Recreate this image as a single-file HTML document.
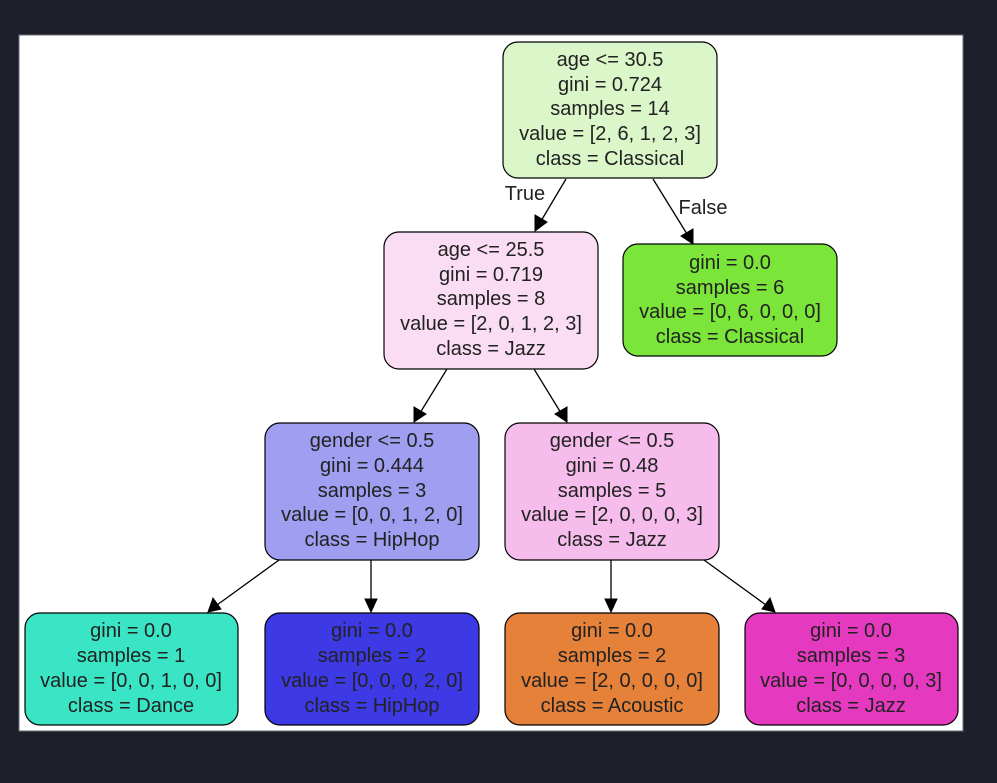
<!DOCTYPE html>
<html><head><meta charset="utf-8"><style>
html,body{margin:0;padding:0;background:#1d1f2b;}
svg{display:block}
text{font-family:"Liberation Sans",Arial,sans-serif;font-size:20px;fill:#222;text-anchor:middle}
.e{stroke:#000;stroke-width:1.3;fill:none}
.a{fill:#000;stroke:#000}
.n{stroke:#000;stroke-width:1.2}
</style></head><body>
<svg width="997" height="783" viewBox="0 0 997 783">
<rect x="0" y="0" width="997" height="783" fill="#1d1f2b"/>
<rect x="19" y="35" width="944" height="696" fill="#fff" stroke="#6b6d78" stroke-width="1"/>

<line class="e" x1="566" y1="179" x2="541" y2="221"/>
<polygon class="a" points="535,231 535,215 547,222"/>
<text x="525" y="200">True</text>
<line class="e" x1="653" y1="179" x2="687" y2="234"/>
<polygon class="a" points="693,244 681,236 693,229"/>
<text x="703" y="214">False</text>

<line class="e" x1="447" y1="369" x2="420" y2="413"/>
<polygon class="a" points="414,422 414,407 426,414"/>
<line class="e" x1="534" y1="369" x2="561" y2="413"/>
<polygon class="a" points="567,422 555,414 567,407"/>

<line class="e" x1="279" y1="560" x2="217" y2="605"/>
<polygon class="a" points="208,612 213,598 221,609"/>
<line class="e" x1="371" y1="560" x2="371" y2="601"/>
<polygon class="a" points="371,612 365,599 377,599"/>
<line class="e" x1="611" y1="560" x2="611" y2="601"/>
<polygon class="a" points="611,612 605,599 617,599"/>
<line class="e" x1="704" y1="560" x2="766" y2="605"/>
<polygon class="a" points="775,612 762,609 770,598"/>

<rect class="n" x="503" y="42" width="214" height="136" rx="15" fill="#dbf7c9"/>
<text x="610" y="66">age &lt;= 30.5</text>
<text x="610" y="91">gini = 0.724</text>
<text x="610" y="115">samples = 14</text>
<text x="610" y="140">value = [2, 6, 1, 2, 3]</text>
<text x="610" y="165">class = Classical</text>

<rect class="n" x="384" y="232" width="214" height="137" rx="15" fill="#fbddf3"/>
<text x="491" y="256">age &lt;= 25.5</text>
<text x="491" y="281">gini = 0.719</text>
<text x="491" y="305">samples = 8</text>
<text x="491" y="330">value = [2, 0, 1, 2, 3]</text>
<text x="491" y="355">class = Jazz</text>

<rect class="n" x="623" y="244" width="214" height="112" rx="15" fill="#7be539"/>
<text x="730" y="269">gini = 0.0</text>
<text x="730" y="294">samples = 6</text>
<text x="730" y="318">value = [0, 6, 0, 0, 0]</text>
<text x="730" y="343">class = Classical</text>

<rect class="n" x="265" y="423" width="214" height="137" rx="15" fill="#9f9ef0"/>
<text x="372" y="447">gender &lt;= 0.5</text>
<text x="372" y="472">gini = 0.444</text>
<text x="372" y="497">samples = 3</text>
<text x="372" y="521">value = [0, 0, 1, 2, 0]</text>
<text x="372" y="546">class = HipHop</text>

<rect class="n" x="505" y="423" width="214" height="137" rx="15" fill="#f5bcec"/>
<text x="612" y="447">gender &lt;= 0.5</text>
<text x="612" y="472">gini = 0.48</text>
<text x="612" y="497">samples = 5</text>
<text x="612" y="521">value = [2, 0, 0, 0, 3]</text>
<text x="612" y="546">class = Jazz</text>

<rect class="n" x="25" y="613" width="213" height="112" rx="15" fill="#39e5c5"/>
<text x="131" y="637">gini = 0.0</text>
<text x="131" y="662">samples = 1</text>
<text x="131" y="687">value = [0, 0, 1, 0, 0]</text>
<text x="131" y="712">class = Dance</text>

<rect class="n" x="265" y="613" width="214" height="112" rx="15" fill="#3c39e5"/>
<text x="372" y="637">gini = 0.0</text>
<text x="372" y="662">samples = 2</text>
<text x="372" y="687">value = [0, 0, 0, 2, 0]</text>
<text x="372" y="712">class = HipHop</text>

<rect class="n" x="505" y="613" width="214" height="112" rx="15" fill="#e58139"/>
<text x="612" y="637">gini = 0.0</text>
<text x="612" y="662">samples = 2</text>
<text x="612" y="687">value = [2, 0, 0, 0, 0]</text>
<text x="612" y="712">class = Acoustic</text>

<rect class="n" x="745" y="613" width="213" height="112" rx="15" fill="#e539c0"/>
<text x="851" y="637">gini = 0.0</text>
<text x="851" y="662">samples = 3</text>
<text x="851" y="687">value = [0, 0, 0, 0, 3]</text>
<text x="851" y="712">class = Jazz</text>
</svg>
</body></html>
